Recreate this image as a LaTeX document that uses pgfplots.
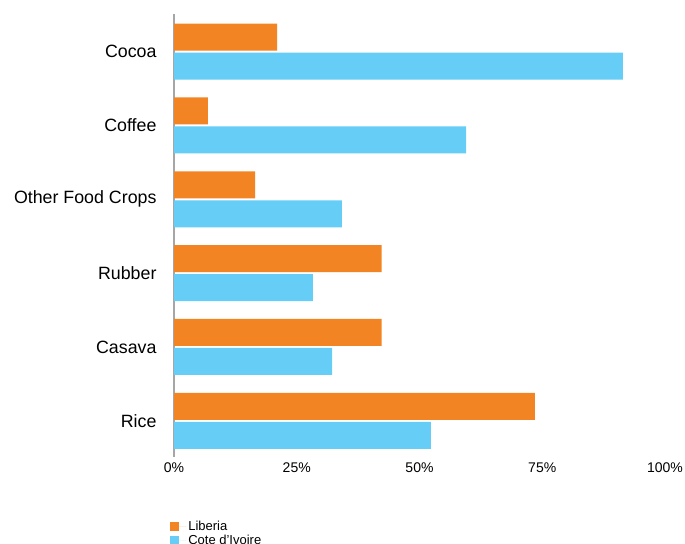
\documentclass[border=0pt]{standalone}
\usepackage{pgfplots}
\pgfplotsset{compat=1.18}
\usepackage{fontspec}
\setmainfont{Liberation Sans}
\definecolor{lib}{HTML}{F38423}
\definecolor{civ}{HTML}{66CDF6}
\begin{document}
\begin{tikzpicture}
\useasboundingbox (0,0) rectangle (685bp,544bp);
\begin{axis}[
  at={(174bp,87bp)}, anchor=south west,
  scale only axis,
  width=491bp, height=443bp,
  xbar,
  xmin=0, xmax=100,
  ymin=-0.49, ymax=5.51,
  ytick={0,1,2,3,4,5},
  yticklabels={Rice,Casava,Rubber,Other Food Crops,Coffee,Cocoa},
  xtick={0,25,50,75,100},
  xticklabels={0\%,25\%,50\%,75\%,100\%},
  xticklabel style={font=\fontsize{14bp}{16bp}\selectfont, yshift=-2.5bp},
  yticklabel style={font=\fontsize{17.8bp}{20bp}\selectfont, xshift=-14bp},
  axis x line*=bottom,
  x axis line style={draw=none},
  axis y line*=left,
  y axis line style={draw=black!35, line width=1.2bp},
  major tick length=0pt,
  axis line style={-},
  tick style={draw=none},
  bar width=27bp,
  legend style={at={(-0.014,-0.136)}, anchor=north west, draw=none, fill=none,
    font=\fontsize{13bp}{14bp}\selectfont, row sep=-1.5bp,
    legend cell align=left},
  legend image code/.code={\fill[#1] (0bp,-4.5bp) rectangle (9bp,4.5bp); \path (0bp,0bp) -- (16bp,0bp);},
]
\addplot[fill=lib, draw=none, bar shift=14.5bp] coordinates {
  (73.5,0) (42.3,1) (42.3,2) (16.5,3) (6.9,4) (21.0,5)};
\addplot[fill=civ, draw=none, bar shift=-14.5bp] coordinates {
  (52.3,0) (32.2,1) (28.3,2) (34.2,3) (59.5,4) (91.4,5)};
\legend{Liberia, Cote d'Ivoire}
\end{axis}
\end{tikzpicture}
\end{document}
